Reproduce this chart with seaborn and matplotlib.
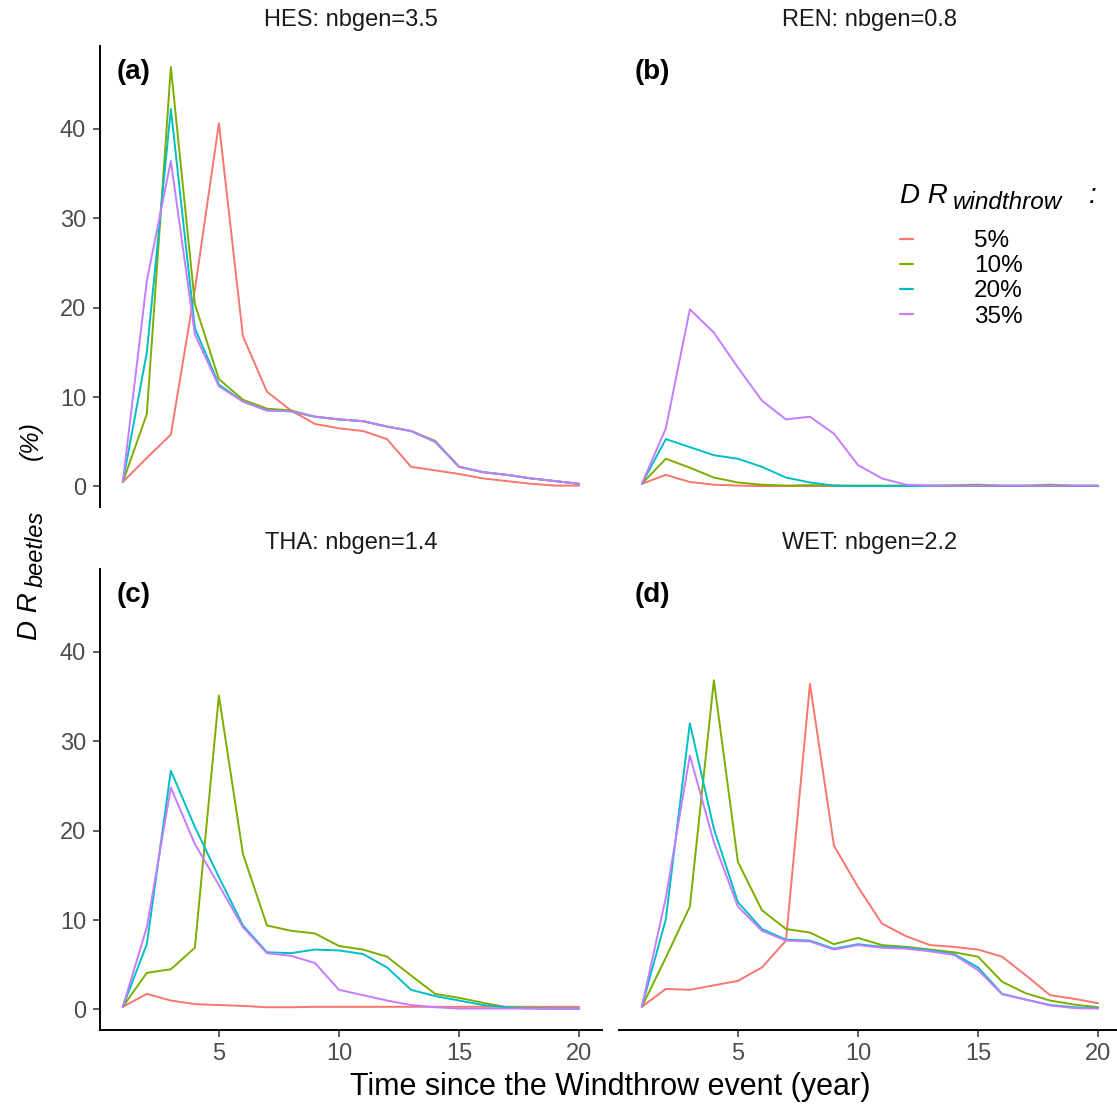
import numpy as np
import pandas as pd
import matplotlib
matplotlib.use("Agg")
import matplotlib.pyplot as plt
import seaborn as sns

sns.set_theme(style="white")
plt.rcParams['font.family'] = ['Liberation Sans', 'DejaVu Sans']

years = list(range(1, 21))
levels = ["5%", "10%", "20%", "35%"]
colors = ["#F8766D", "#7CAE00", "#00BFC4", "#C77CFF"]
sites = ["HES: nbgen=3.5", "REN: nbgen=0.8", "THA: nbgen=1.4", "WET: nbgen=2.2"]
panel_tags = ["(a)", "(b)", "(c)", "(d)"]

# HES
hes_5 = [0.5, 3.2, 5.8, 22.0, 40.6, 16.8, 10.6, 8.5, 7.0, 6.5, 6.2, 5.3, 2.2, 1.8, 1.4, 0.9, 0.6, 0.3, 0.1, 0.1]
hes_10 = [0.5, 8.1, 46.9, 20.4, 12.0, 9.7, 8.7, 8.5, 7.8, 7.5, 7.3, 6.7, 6.2, 5.1, 2.2, 1.6, 1.3, 0.9, 0.6, 0.3]
hes_20 = [0.5, 15.0, 42.2, 17.7, 11.4, 9.5, 8.5, 8.4, 7.8, 7.5, 7.3, 6.7, 6.2, 5.0, 2.2, 1.6, 1.3, 0.9, 0.6, 0.3]
hes_35 = [0.5, 23.0, 36.4, 17.0, 11.2, 9.5, 8.5, 8.4, 7.8, 7.5, 7.3, 6.7, 6.2, 5.0, 2.2, 1.6, 1.3, 0.9, 0.6, 0.3]
# REN
ren_5 = [0.3, 1.3, 0.5, 0.2, 0.1, 0.05, 0.05, 0.05, 0.05, 0.05, 0.05, 0.05, 0.05, 0.05, 0.05, 0.05, 0.05, 0.05, 0.05, 0.05]
ren_10 = [0.3, 3.1, 2.1, 1.0, 0.45, 0.2, 0.1, 0.15, 0.1, 0.1, 0.1, 0.1, 0.1, 0.15, 0.2, 0.1, 0.1, 0.2, 0.1, 0.1]
ren_20 = [0.3, 5.3, 4.4, 3.5, 3.1, 2.2, 1.0, 0.45, 0.1, 0.05, 0.05, 0.05, 0.05, 0.05, 0.05, 0.05, 0.05, 0.05, 0.05, 0.05]
ren_35 = [0.3, 6.5, 19.8, 17.2, 13.3, 9.6, 7.5, 7.8, 5.9, 2.4, 0.9, 0.2, 0.1, 0.1, 0.1, 0.1, 0.1, 0.1, 0.1, 0.1]
# THA
tha_5 = [0.3, 1.75, 1.0, 0.6, 0.5, 0.4, 0.25, 0.25, 0.3, 0.3, 0.3, 0.3, 0.3, 0.3, 0.3, 0.3, 0.3, 0.3, 0.3, 0.3]
tha_10 = [0.3, 4.1, 4.5, 6.9, 35.1, 17.4, 9.4, 8.8, 8.5, 7.1, 6.7, 5.9, 3.8, 1.75, 1.3, 0.75, 0.25, 0.2, 0.1, 0.1]
tha_20 = [0.3, 7.3, 26.7, 20.4, 14.8, 9.4, 6.4, 6.3, 6.7, 6.6, 6.2, 4.7, 2.2, 1.5, 1.0, 0.5, 0.25, 0.1, 0.1, 0.1]
tha_35 = [0.3, 9.2, 24.8, 18.5, 13.9, 9.2, 6.3, 6.0, 5.2, 2.2, 1.6, 1.0, 0.5, 0.25, 0.1, 0.1, 0.1, 0.1, 0.1, 0.1]
# WET
wet_5 = [0.3, 2.3, 2.2, 2.7, 3.2, 4.7, 7.7, 36.4, 18.3, 13.7, 9.6, 8.2, 7.2, 7.0, 6.7, 5.9, 3.8, 1.6, 1.2, 0.7]
wet_10 = [0.3, 5.8, 11.5, 36.8, 16.5, 11.1, 9.0, 8.6, 7.3, 8.0, 7.2, 7.0, 6.7, 6.4, 5.9, 3.1, 1.8, 1.0, 0.55, 0.25]
wet_20 = [0.3, 10.1, 32.0, 20.2, 12.0, 9.0, 7.8, 7.7, 6.8, 7.3, 7.0, 6.9, 6.6, 6.2, 4.7, 1.75, 1.1, 0.5, 0.25, 0.15]
wet_35 = [0.3, 12.5, 28.4, 18.7, 11.5, 8.8, 7.7, 7.6, 6.7, 7.2, 6.9, 6.8, 6.5, 6.1, 4.4, 1.7, 1.1, 0.45, 0.15, 0.1]

site_series = {
    sites[0]: [hes_5, hes_10, hes_20, hes_35],
    sites[1]: [ren_5, ren_10, ren_20, ren_35],
    sites[2]: [tha_5, tha_10, tha_20, tha_35],
    sites[3]: [wet_5, wet_10, wet_20, wet_35],
}

rows = []
for s, series in site_series.items():
    for lev, vals in zip(levels, series):
        for t, v in zip(years, vals):
            rows.append({"site": s, "level": lev, "year": t, "value": v})
df = pd.DataFrame(rows)

W, H = 1117, 1105
fig = plt.figure(figsize=(W / 100, H / 100), dpi=100)


def fx(px):
    return px / W


def fy(py):
    return 1 - py / H


pw, ph = 502, 461
boxes = [(100, 46), (619, 46), (100, 569), (619, 569)]
axes = []
for i, (lx, ty) in enumerate(boxes):
    rect = [fx(lx), fy(ty + ph), pw / W, ph / H]
    if i == 0:
        ax = fig.add_axes(rect)
    else:
        ax = fig.add_axes(rect, sharex=axes[0], sharey=axes[0])
    axes.append(ax)

palette = dict(zip(levels, colors))
for i, (ax, s) in enumerate(zip(axes, sites)):
    sub = df[df["site"] == s]
    sns.lineplot(data=sub, x="year", y="value", hue="level", hue_order=levels,
                 palette=palette, ax=ax, linewidth=1.4, legend=(i == 1))
    ax.set_xlabel("")
    ax.set_ylabel("")
    ax.set_facecolor("white")
    for sp in ["top", "right"]:
        ax.spines[sp].set_visible(False)
    for sp in ["left", "bottom"]:
        ax.spines[sp].set_color("black")
        ax.spines[sp].set_linewidth(1.4)
    ax.tick_params(axis="both", colors="#333333", labelcolor="#4D4D4D",
                   labelsize=17, length=5, width=1.1, direction="out",
                   bottom=True, left=True)
    ax.tick_params(axis="y", pad=5)
    ax.tick_params(axis="x", pad=4)
    if i in (0, 1):
        ax.spines["bottom"].set_visible(False)
        ax.tick_params(axis="x", bottom=False, labelbottom=False)
    if i in (1, 3):
        ax.spines["left"].set_visible(False)
        ax.tick_params(axis="y", left=False, labelleft=False)
    ax.text(0.5, 1.056, s, transform=ax.transAxes, ha="center", va="center",
            fontsize=17, color="#1A1A1A")
    ax.text(0.066, 0.944, panel_tags[i], transform=ax.transAxes, ha="center",
            va="center", fontsize=20, fontweight="bold", color="black")

axes[0].set_xticks([5, 10, 15, 20])
axes[0].set_yticks([0, 10, 20, 30, 40])
axes[0].margins(x=0.05, y=0.05)

# legend
handles, labels = axes[1].get_legend_handles_labels()
axes[1].get_legend().remove()
leg = fig.legend(handles, labels, loc="upper left",
                 bbox_to_anchor=(fx(900), fy(230)),
                 frameon=False, fontsize=17.5, handlelength=0.54,
                 handletextpad=2.5, labelspacing=0.13, borderpad=0,
                 borderaxespad=0)
for h in leg.get_lines():
    h.set_linewidth(1.6)
for t in leg.get_texts():
    t.set_color("black")

# legend title: DR_windthrow :
fig.text(fx(900), fy(203), "D R", ha="left", va="baseline", fontsize=20,
         style="italic", color="black")
fig.text(fx(953), fy(209), "windthrow", ha="left", va="baseline", fontsize=17.5,
         style="italic", color="black")
fig.text(fx(1089), fy(203), ":", ha="left", va="baseline", fontsize=20,
         style="italic", color="black")

# y label: DR_beetles (%)
fig.text(fx(37), fy(640), "D R", rotation=90, rotation_mode="anchor",
         ha="left", va="baseline", fontsize=20, style="italic", color="black")
fig.text(fx(43), fy(587), "beetles", rotation=90, rotation_mode="anchor",
         ha="left", va="baseline", fontsize=17, style="italic", color="black")
fig.text(fx(38), fy(460), "(%)", rotation=90, rotation_mode="anchor",
         ha="left", va="baseline", fontsize=18, style="italic", color="black")

fig.text(fx(610), fy(1087), "Time since the Windthrow event (year)",
         ha="center", va="center", fontsize=22, color="black")

fig.savefig("out.png", dpi=100, facecolor="white")
